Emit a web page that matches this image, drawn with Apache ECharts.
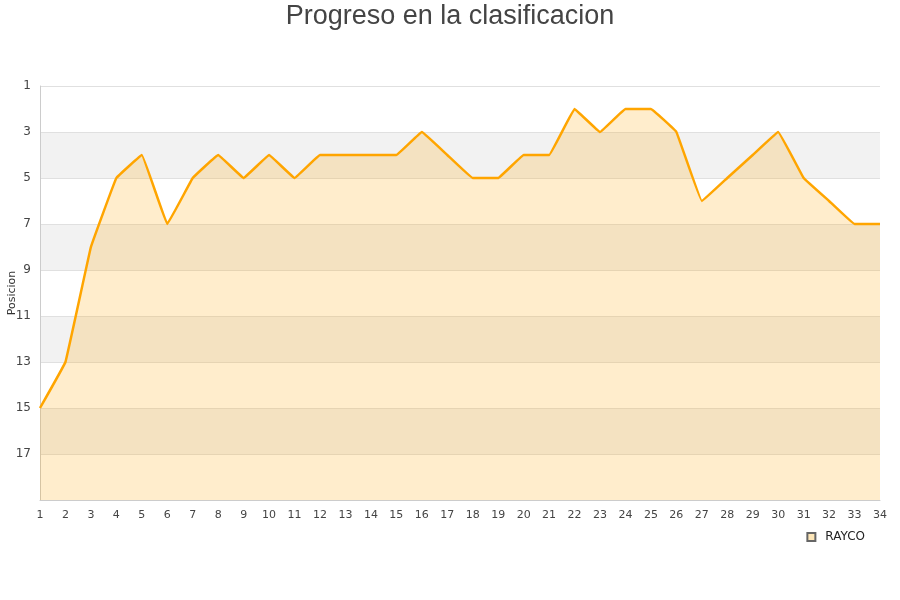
<!DOCTYPE html>
<html><head><meta charset="utf-8">
<script src="https://cdn.jsdelivr.net/npm/echarts@6/dist/echarts.min.js"></script>
<style>html,body{margin:0;padding:0;background:#fff}#c{width:900px;height:600px}</style>
</head><body><div id="c"></div>
<script>
const categories = ['1','2','3','4','5','6','7','8','9','10','11','12','13','14','15','16','17','18','19','20','21','22','23','24','25','26','27','28','29','30','31','32','33','34'];
const raycoPositions = [15,13,8,5,4,7,5,4,5,4,5,4,4,4,4,3,4,5,5,4,4,2,3,2,2,3,6,5,4,3,5,6,7,7];
const seriesName = 'RAYCO';
const chart = echarts.init(document.getElementById('c'));
chart.setOption({
  animation: false,
  title: { text: 'Progreso en la clasificacion', left: 'center', top: -2,
    textStyle: { fontFamily: 'Liberation Sans, Arial, sans-serif', fontSize: 27, fontWeight: 'normal', color: '#444' } },
  grid: { left: 40, right: 20, top: 86, bottom: 100, containLabel: false, outerBoundsMode: 'none' },
  legend: { data: [seriesName], right: 30, top: 526, icon: 'rect', itemWidth: 8, itemHeight: 8, itemGap: 5,
    textStyle: { fontFamily: 'DejaVu Sans, sans-serif', fontSize: 12, color: '#222', padding: [0, 0, 0, 5] } },
  xAxis: { type: 'category', data: categories, boundaryGap: false,
    axisLine: { lineStyle: { color: '#ccc' } }, axisTick: { show: false },
    axisLabel: { color: '#444', fontSize: 11, fontFamily: 'DejaVu Sans, sans-serif', margin: 10, interval: 0 } },
  yAxis: { type: 'value', inverse: true, min: 1, max: 19, interval: 2,
    name: 'Posicion', nameLocation: 'middle', nameGap: 22, nameMoveOverlap: false,
    nameTextStyle: { color: '#333', fontSize: 11, fontFamily: 'DejaVu Sans, sans-serif' },
    axisLine: { show: true, lineStyle: { color: '#ccc' } }, axisTick: { show: false },
    axisLabel: { color: '#444', fontSize: 12, fontFamily: 'DejaVu Sans, sans-serif', margin: 9,
      formatter: v => v === 19 ? '' : v },
    splitLine: { lineStyle: { color: '#e0e0e0' } },
    splitArea: { show: true, areaStyle: { color: ['#ffffff', '#f2f2f2'] } } },
  series: [{
    name: seriesName, type: 'line', data: raycoPositions, smooth: 0.05,
    showSymbol: false, symbol: 'none',
    lineStyle: { color: '#ffa500', width: 2.5 },
    itemStyle: { color: '#fde6b8', borderColor: '#666', borderWidth: 0.8 },
    areaStyle: { color: '#ffa500', opacity: 0.2, origin: 'end' }
  }]
});
</script></body></html>
